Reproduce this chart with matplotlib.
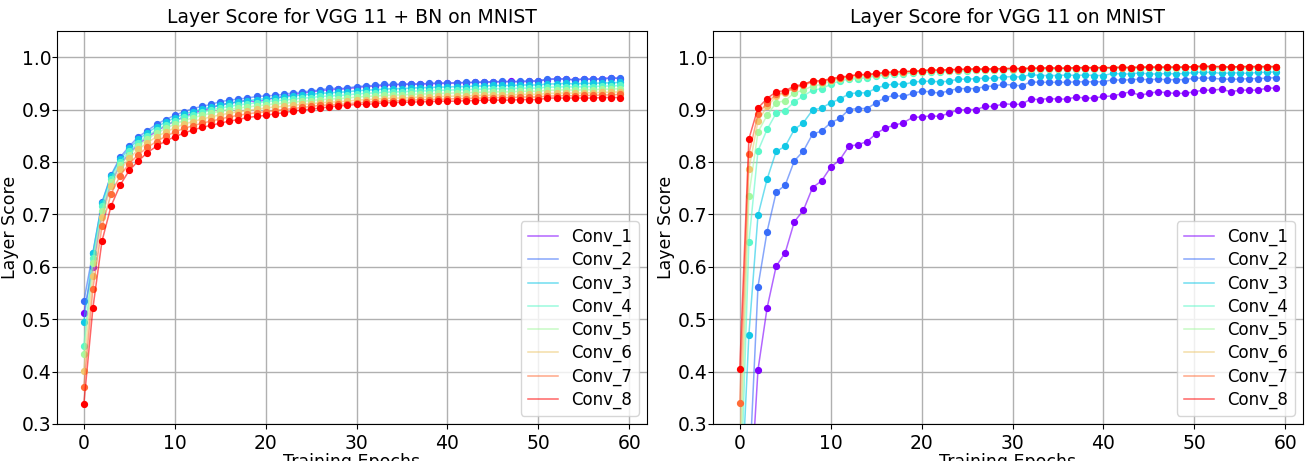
import numpy as np
import matplotlib
matplotlib.use('Agg')
import matplotlib.pyplot as plt

epochs = np.arange(60)
layer_names = ["Conv_1", "Conv_2", "Conv_3", "Conv_4", "Conv_5", "Conv_6", "Conv_7", "Conv_8"]

# layer scores per epoch, VGG 11 with batch norm
bn_conv1 = [0.512, 0.599, 0.703, 0.760, 0.795, 0.816, 0.834, 0.847, 0.859, 0.869,
            0.878, 0.886, 0.893, 0.898, 0.903, 0.909, 0.912, 0.915, 0.918, 0.914,
            0.919, 0.922, 0.925, 0.929, 0.931, 0.934, 0.936, 0.938, 0.939, 0.940,
            0.942, 0.944, 0.945, 0.946, 0.947, 0.948, 0.948, 0.949, 0.949, 0.950,
            0.950, 0.951, 0.951, 0.952, 0.952, 0.953, 0.953, 0.954, 0.953, 0.954,
            0.955, 0.957, 0.959, 0.958, 0.957, 0.958, 0.958, 0.959, 0.961, 0.959]
bn_conv2 = [0.534, 0.627, 0.723, 0.775, 0.809, 0.830, 0.848, 0.860, 0.872, 0.881,
            0.889, 0.896, 0.902, 0.906, 0.910, 0.915, 0.918, 0.920, 0.922, 0.925,
            0.926, 0.927, 0.929, 0.932, 0.933, 0.936, 0.937, 0.941, 0.940, 0.941,
            0.944, 0.945, 0.946, 0.948, 0.948, 0.949, 0.949, 0.949, 0.950, 0.951,
            0.951, 0.951, 0.952, 0.952, 0.953, 0.953, 0.954, 0.953, 0.954, 0.955,
            0.954, 0.959, 0.958, 0.959, 0.956, 0.959, 0.958, 0.958, 0.960, 0.960]
bn_conv3 = [0.495, 0.626, 0.722, 0.774, 0.805, 0.826, 0.843, 0.856, 0.867, 0.876,
            0.884, 0.891, 0.896, 0.901, 0.905, 0.909, 0.912, 0.915, 0.917, 0.919,
            0.921, 0.922, 0.924, 0.926, 0.928, 0.929, 0.931, 0.932, 0.933, 0.934,
            0.936, 0.937, 0.938, 0.939, 0.940, 0.940, 0.941, 0.942, 0.942, 0.943,
            0.943, 0.944, 0.944, 0.945, 0.945, 0.946, 0.946, 0.946, 0.947, 0.947,
            0.947, 0.949, 0.949, 0.950, 0.949, 0.950, 0.950, 0.951, 0.951, 0.952]
bn_conv4 = [0.448, 0.617, 0.716, 0.768, 0.800, 0.820, 0.837, 0.850, 0.861, 0.870,
            0.878, 0.885, 0.890, 0.895, 0.899, 0.903, 0.906, 0.909, 0.911, 0.913,
            0.915, 0.917, 0.918, 0.920, 0.922, 0.923, 0.925, 0.926, 0.927, 0.928,
            0.930, 0.931, 0.932, 0.933, 0.934, 0.934, 0.935, 0.936, 0.936, 0.937,
            0.937, 0.938, 0.938, 0.939, 0.939, 0.940, 0.940, 0.940, 0.941, 0.941,
            0.941, 0.943, 0.943, 0.944, 0.943, 0.944, 0.944, 0.945, 0.945, 0.946]
bn_conv5 = [0.434, 0.608, 0.707, 0.762, 0.794, 0.814, 0.831, 0.844, 0.855, 0.864,
            0.872, 0.879, 0.884, 0.889, 0.893, 0.897, 0.900, 0.903, 0.905, 0.907,
            0.909, 0.911, 0.912, 0.914, 0.916, 0.917, 0.919, 0.920, 0.921, 0.922,
            0.924, 0.925, 0.926, 0.927, 0.928, 0.928, 0.929, 0.930, 0.930, 0.931,
            0.931, 0.932, 0.932, 0.933, 0.933, 0.934, 0.934, 0.934, 0.935, 0.935,
            0.935, 0.937, 0.937, 0.938, 0.937, 0.938, 0.938, 0.939, 0.939, 0.940]
bn_conv6 = [0.402, 0.583, 0.695, 0.754, 0.786, 0.807, 0.824, 0.837, 0.848, 0.857,
            0.865, 0.872, 0.877, 0.882, 0.886, 0.890, 0.893, 0.896, 0.898, 0.901,
            0.903, 0.905, 0.906, 0.908, 0.910, 0.911, 0.913, 0.914, 0.915, 0.916,
            0.918, 0.919, 0.920, 0.921, 0.922, 0.922, 0.923, 0.924, 0.924, 0.925,
            0.925, 0.926, 0.926, 0.927, 0.927, 0.928, 0.928, 0.928, 0.929, 0.929,
            0.929, 0.931, 0.931, 0.932, 0.931, 0.932, 0.932, 0.933, 0.933, 0.934]
bn_conv7 = [0.370, 0.558, 0.677, 0.739, 0.774, 0.797, 0.814, 0.828, 0.839, 0.849,
            0.857, 0.864, 0.869, 0.874, 0.878, 0.882, 0.886, 0.889, 0.892, 0.894,
            0.896, 0.898, 0.900, 0.902, 0.904, 0.906, 0.908, 0.909, 0.910, 0.911,
            0.913, 0.914, 0.915, 0.916, 0.917, 0.917, 0.918, 0.919, 0.919, 0.920,
            0.920, 0.921, 0.921, 0.922, 0.922, 0.923, 0.923, 0.923, 0.924, 0.924,
            0.924, 0.926, 0.926, 0.927, 0.926, 0.927, 0.927, 0.928, 0.928, 0.929]
bn_conv8 = [0.338, 0.521, 0.649, 0.716, 0.756, 0.784, 0.802, 0.818, 0.830, 0.840,
            0.848, 0.855, 0.861, 0.866, 0.870, 0.874, 0.878, 0.881, 0.885, 0.887,
            0.889, 0.892, 0.894, 0.897, 0.899, 0.901, 0.903, 0.905, 0.907, 0.908,
            0.910, 0.910, 0.911, 0.913, 0.913, 0.914, 0.914, 0.915, 0.915, 0.916,
            0.916, 0.916, 0.917, 0.917, 0.918, 0.918, 0.918, 0.918, 0.919, 0.919,
            0.919, 0.922, 0.922, 0.922, 0.922, 0.922, 0.922, 0.923, 0.923, 0.923]

# layer scores per epoch, plain VGG 11
vgg_conv1 = [0.100, 0.110, 0.403, 0.521, 0.601, 0.627, 0.686, 0.708, 0.751, 0.764,
             0.790, 0.804, 0.830, 0.833, 0.839, 0.854, 0.865, 0.870, 0.875, 0.885,
             0.886, 0.888, 0.887, 0.893, 0.899, 0.900, 0.900, 0.906, 0.906, 0.911,
             0.910, 0.910, 0.920, 0.919, 0.921, 0.920, 0.920, 0.924, 0.922, 0.922,
             0.925, 0.926, 0.930, 0.934, 0.927, 0.931, 0.934, 0.932, 0.931, 0.931,
             0.934, 0.937, 0.937, 0.939, 0.934, 0.937, 0.937, 0.937, 0.941, 0.941]
vgg_conv2 = [0.100, 0.188, 0.562, 0.667, 0.742, 0.756, 0.802, 0.821, 0.853, 0.859,
             0.875, 0.883, 0.900, 0.902, 0.902, 0.913, 0.923, 0.927, 0.925, 0.931,
             0.935, 0.934, 0.931, 0.936, 0.940, 0.940, 0.940, 0.944, 0.945, 0.948,
             0.947, 0.945, 0.953, 0.952, 0.952, 0.952, 0.952, 0.953, 0.953, 0.953,
             0.953, 0.957, 0.956, 0.957, 0.958, 0.957, 0.958, 0.957, 0.957, 0.957,
             0.960, 0.960, 0.960, 0.958, 0.958, 0.958, 0.959, 0.959, 0.960, 0.961]
vgg_conv3 = [0.100, 0.470, 0.698, 0.767, 0.820, 0.830, 0.862, 0.875, 0.899, 0.903,
             0.913, 0.920, 0.930, 0.932, 0.932, 0.941, 0.946, 0.949, 0.948, 0.952,
             0.954, 0.954, 0.953, 0.954, 0.958, 0.958, 0.959, 0.960, 0.960, 0.962,
             0.963, 0.962, 0.967, 0.965, 0.965, 0.965, 0.966, 0.965, 0.966, 0.965,
             0.965, 0.969, 0.968, 0.968, 0.970, 0.968, 0.968, 0.969, 0.968, 0.969,
             0.971, 0.971, 0.971, 0.969, 0.970, 0.970, 0.969, 0.971, 0.971, 0.972]
vgg_conv4 = [0.113, 0.647, 0.821, 0.862, 0.893, 0.898, 0.915, 0.926, 0.937, 0.940,
             0.948, 0.955, 0.958, 0.959, 0.961, 0.964, 0.966, 0.968, 0.968, 0.970,
             0.971, 0.972, 0.972, 0.973, 0.974, 0.974, 0.975, 0.975, 0.975, 0.976,
             0.976, 0.976, 0.977, 0.977, 0.977, 0.977, 0.978, 0.977, 0.978, 0.978,
             0.978, 0.979, 0.979, 0.978, 0.979, 0.979, 0.979, 0.979, 0.979, 0.980,
             0.980, 0.980, 0.980, 0.979, 0.980, 0.980, 0.979, 0.980, 0.980, 0.980]
vgg_conv5 = [0.180, 0.736, 0.857, 0.889, 0.913, 0.917, 0.932, 0.937, 0.945, 0.948,
             0.954, 0.958, 0.961, 0.962, 0.964, 0.966, 0.968, 0.969, 0.970, 0.971,
             0.972, 0.973, 0.973, 0.974, 0.975, 0.975, 0.976, 0.976, 0.976, 0.977,
             0.977, 0.977, 0.978, 0.978, 0.978, 0.978, 0.979, 0.978, 0.979, 0.979,
             0.979, 0.980, 0.980, 0.979, 0.980, 0.980, 0.980, 0.980, 0.980, 0.981,
             0.981, 0.981, 0.981, 0.980, 0.981, 0.981, 0.980, 0.981, 0.981, 0.981]
vgg_conv6 = [0.250, 0.786, 0.878, 0.906, 0.925, 0.932, 0.941, 0.948, 0.954, 0.955,
             0.958, 0.961, 0.963, 0.966, 0.966, 0.968, 0.970, 0.971, 0.972, 0.973,
             0.974, 0.975, 0.975, 0.976, 0.976, 0.977, 0.977, 0.977, 0.978, 0.978,
             0.978, 0.978, 0.979, 0.979, 0.979, 0.979, 0.979, 0.980, 0.980, 0.980,
             0.980, 0.980, 0.981, 0.980, 0.981, 0.981, 0.981, 0.981, 0.981, 0.981,
             0.982, 0.983, 0.982, 0.982, 0.981, 0.982, 0.982, 0.982, 0.982, 0.982]
vgg_conv7 = [0.340, 0.815, 0.891, 0.913, 0.929, 0.933, 0.942, 0.946, 0.953, 0.953,
             0.957, 0.960, 0.963, 0.966, 0.966, 0.968, 0.970, 0.971, 0.972, 0.973,
             0.974, 0.975, 0.975, 0.976, 0.976, 0.977, 0.977, 0.977, 0.978, 0.978,
             0.978, 0.978, 0.979, 0.979, 0.979, 0.979, 0.979, 0.980, 0.980, 0.980,
             0.980, 0.980, 0.980, 0.980, 0.981, 0.981, 0.981, 0.981, 0.981, 0.981,
             0.982, 0.982, 0.982, 0.982, 0.981, 0.982, 0.982, 0.982, 0.982, 0.982]
vgg_conv8 = [0.405, 0.844, 0.903, 0.921, 0.934, 0.936, 0.945, 0.948, 0.955, 0.955,
             0.959, 0.962, 0.964, 0.967, 0.967, 0.969, 0.971, 0.972, 0.973, 0.973,
             0.974, 0.976, 0.975, 0.976, 0.977, 0.977, 0.978, 0.977, 0.978, 0.978,
             0.979, 0.978, 0.979, 0.979, 0.980, 0.979, 0.979, 0.980, 0.980, 0.980,
             0.980, 0.980, 0.981, 0.980, 0.981, 0.981, 0.981, 0.981, 0.981, 0.981,
             0.982, 0.983, 0.982, 0.982, 0.981, 0.982, 0.982, 0.982, 0.982, 0.982]

bn_scores = [bn_conv1, bn_conv2, bn_conv3, bn_conv4, bn_conv5, bn_conv6, bn_conv7, bn_conv8]
vgg_scores = [vgg_conv1, vgg_conv2, vgg_conv3, vgg_conv4, vgg_conv5, vgg_conv6, vgg_conv7, vgg_conv8]


def layerScorePlot(ax, scores, title):
    colors = plt.cm.rainbow(np.linspace(0, 1, len(scores)))
    for name, score, color in zip(layer_names, scores, colors):
        ax.plot(epochs, score, color=color, alpha=0.6, linewidth=1.1, label=name)
        ax.plot(epochs, score, color=color, linestyle='none', marker='o', markersize=4.2)
    ax.set_ylim(0.3, 1.05)
    ax.set_yticks(np.arange(0.3, 1.01, 0.1))
    ax.set_xticks(np.arange(0, 61, 10))
    ax.tick_params(labelsize=13.5)
    ax.tick_params(axis='y', pad=0.5)
    ax.grid(True, color='#b0b0b0', linewidth=1)
    ax.set_axisbelow(True)
    ax.set_title(title, fontsize=13.5)
    ax.set_xlabel('Training Epochs', fontsize=12.5, labelpad=0)
    ax.set_ylabel('Layer Score', fontsize=12.5, labelpad=2)
    ax.legend(loc='lower right', fontsize=12, handlelength=1.8, labelspacing=0.3)


fig = plt.figure(figsize=(13.07, 4.61), dpi=100)
ax1 = fig.add_axes([0.0436, 0.0803, 0.4514, 0.8525])
ax2 = fig.add_axes([0.5455, 0.0803, 0.4514, 0.8525])
layerScorePlot(ax1, bn_scores, "Layer Score for VGG 11 + BN on MNIST")
layerScorePlot(ax2, vgg_scores, "Layer Score for VGG 11 on MNIST")
fig.savefig("out.png", dpi=100)
